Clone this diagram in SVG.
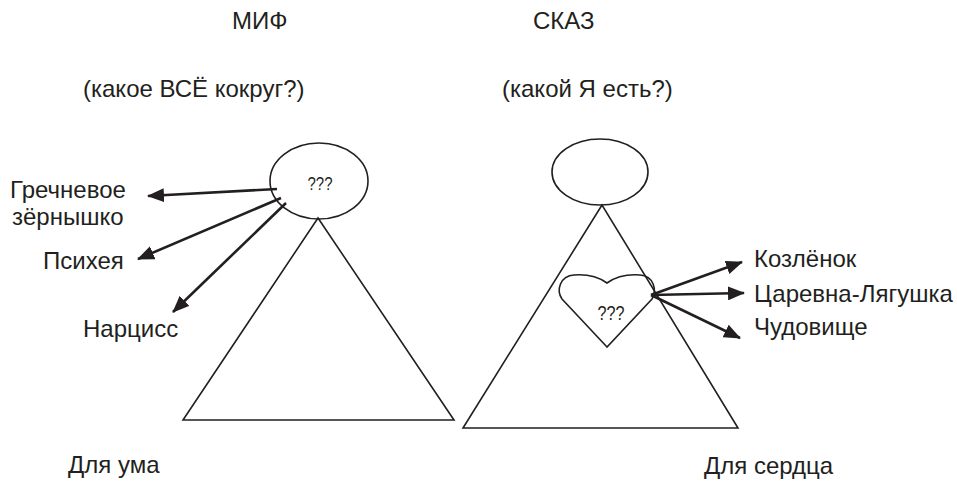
<svg xmlns="http://www.w3.org/2000/svg" width="957" height="481" viewBox="0 0 957 481">
<style>
text{font-family:"Liberation Sans",Arial,sans-serif;font-size:24px;fill:#231f20}
.q{font-size:18px}
.shape{fill:none;stroke:#231f20;stroke-width:1.6}
.arr{fill:none;stroke:#231f20;stroke-width:2.6}
</style>
<defs>
<marker id="ah" markerUnits="userSpaceOnUse" markerWidth="18" markerHeight="14" refX="16" refY="7" orient="auto">
<path d="M0,0 L17,7 L0,14 Z" fill="#231f20"/>
</marker>
</defs>
<rect width="957" height="481" fill="#fff"/>
<g id="titles">
<text x="232" y="29">МИФ</text>
<text x="533" y="29">СКАЗ</text>
<text x="83" y="97">(какое ВСЁ кокруг?)</text>
<text x="502" y="97">(какой Я есть?)</text>
<text x="68" y="473">Для ума</text>
<text x="704" y="474">Для сердца</text>
</g>
<g id="myth">
<ellipse class="shape" cx="319" cy="181" rx="49" ry="38"/>
<text class="q" x="320" y="190" text-anchor="middle" textLength="25" lengthAdjust="spacingAndGlyphs">???</text>
<polygon class="shape" points="318,218 183,420 454,420"/>
</g>
<g id="tale">
<ellipse class="shape" cx="600" cy="172" rx="48" ry="33"/>
<polygon class="shape" points="602,205 463,428 738,428"/>
<path class="shape" fill="#fff" d="M607,347 L562,299 C556,290 560,276 574,275 C588,274 600,278 607,283 C614,278 626,274 640,275 C654,276 657,290 652,299 Z"/>
<text class="q" x="611" y="320" text-anchor="middle" textLength="27" lengthAdjust="spacingAndGlyphs" style="font-size:20px">???</text>
</g>
<g id="labels">
<text x="10" y="198">Гречневое</text>
<text x="12" y="225">зёрнышко</text>
<text x="43" y="269">Психея</text>
<text x="83" y="337">Нарцисс</text>
<text x="754" y="267">Козлёнок</text>
<text x="754" y="302">Царевна-Лягушка</text>
<text x="754" y="335">Чудовище</text>
</g>
<g id="connectors">
<line class="arr" x1="277" y1="189" x2="148" y2="196" marker-end="url(#ah)"/>
<line class="arr" x1="281" y1="198" x2="138" y2="259" marker-end="url(#ah)"/>
<line class="arr" x1="286" y1="203" x2="173" y2="312" marker-end="url(#ah)"/>
<line class="arr" x1="651" y1="295" x2="742" y2="262" marker-end="url(#ah)"/>
<line class="arr" x1="651" y1="295" x2="744" y2="293" marker-end="url(#ah)"/>
<line class="arr" x1="651" y1="295" x2="740" y2="338" marker-end="url(#ah)"/>
</g>
</svg>
